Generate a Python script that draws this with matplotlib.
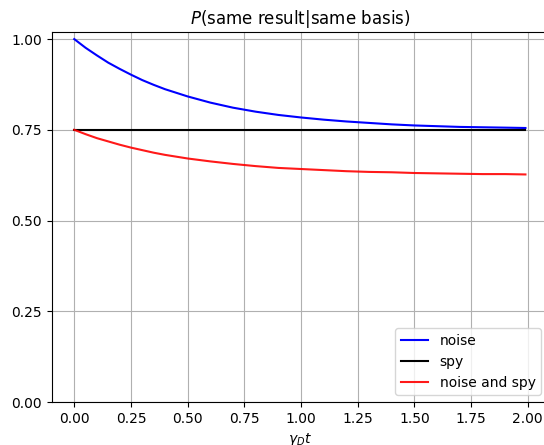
import matplotlib
matplotlib.use("Agg")
import matplotlib.pyplot as plt

t = [0.0, 0.05, 0.1, 0.15, 0.2, 0.25, 0.3, 0.35, 0.4, 0.45, 0.5,
     0.6, 0.7, 0.8, 0.9, 1.0, 1.1, 1.2, 1.3, 1.4, 1.5, 1.6, 1.7, 1.8, 1.9, 1.99]
noise = [1.000, 0.976, 0.955, 0.935, 0.918, 0.902, 0.887, 0.874, 0.862, 0.852, 0.842,
         0.825, 0.811, 0.800, 0.791, 0.784, 0.778, 0.773, 0.769, 0.765, 0.762, 0.760,
         0.758, 0.757, 0.756, 0.755]
noise_and_spy = [0.750, 0.738, 0.727, 0.718, 0.709, 0.701, 0.694, 0.687, 0.681, 0.676, 0.671,
                 0.663, 0.656, 0.650, 0.645, 0.642, 0.639, 0.636, 0.634, 0.633, 0.631, 0.630,
                 0.629, 0.628, 0.628, 0.627]
t_spy = [0.0, 1.99]
spy = [0.75, 0.75]

yticks = [0.0, 0.25, 0.5, 0.75, 1.0]
xticks = [0.0, 0.25, 0.5, 0.75, 1.0, 1.25, 1.5, 1.75, 2.0]

fig = plt.figure(figsize=(5.44, 4.45), dpi=100)
ax = fig.add_axes([51.7 / 544, 43 / 445, (548 - 51.7) / 544, (402 - 32.3) / 445])

ax.plot(t, noise, color='b', lw=1.5, label='noise')
ax.plot(t_spy, spy, color='k', lw=1.5, label='spy')
ax.plot(t, noise_and_spy, color='r', lw=1.5, alpha=0.9, label='noise and spy')

ax.set_xlim(-0.0995, 2.0895)
ax.set_ylim(0, 1.0187)
ax.set_xticks(xticks)
ax.set_yticks(yticks)
ax.xaxis.set_major_formatter(matplotlib.ticker.FormatStrFormatter('%.2f'))
ax.yaxis.set_major_formatter(matplotlib.ticker.FormatStrFormatter('%.2f'))
ax.grid(True, color='#b0b0b0', lw=0.8)
ax.set_title(r'$P$(same result|same basis)')
ax.set_xlabel(r'$\gamma_D t$')
ax.legend(loc='lower right')

fig.savefig('out.png', dpi=100)
